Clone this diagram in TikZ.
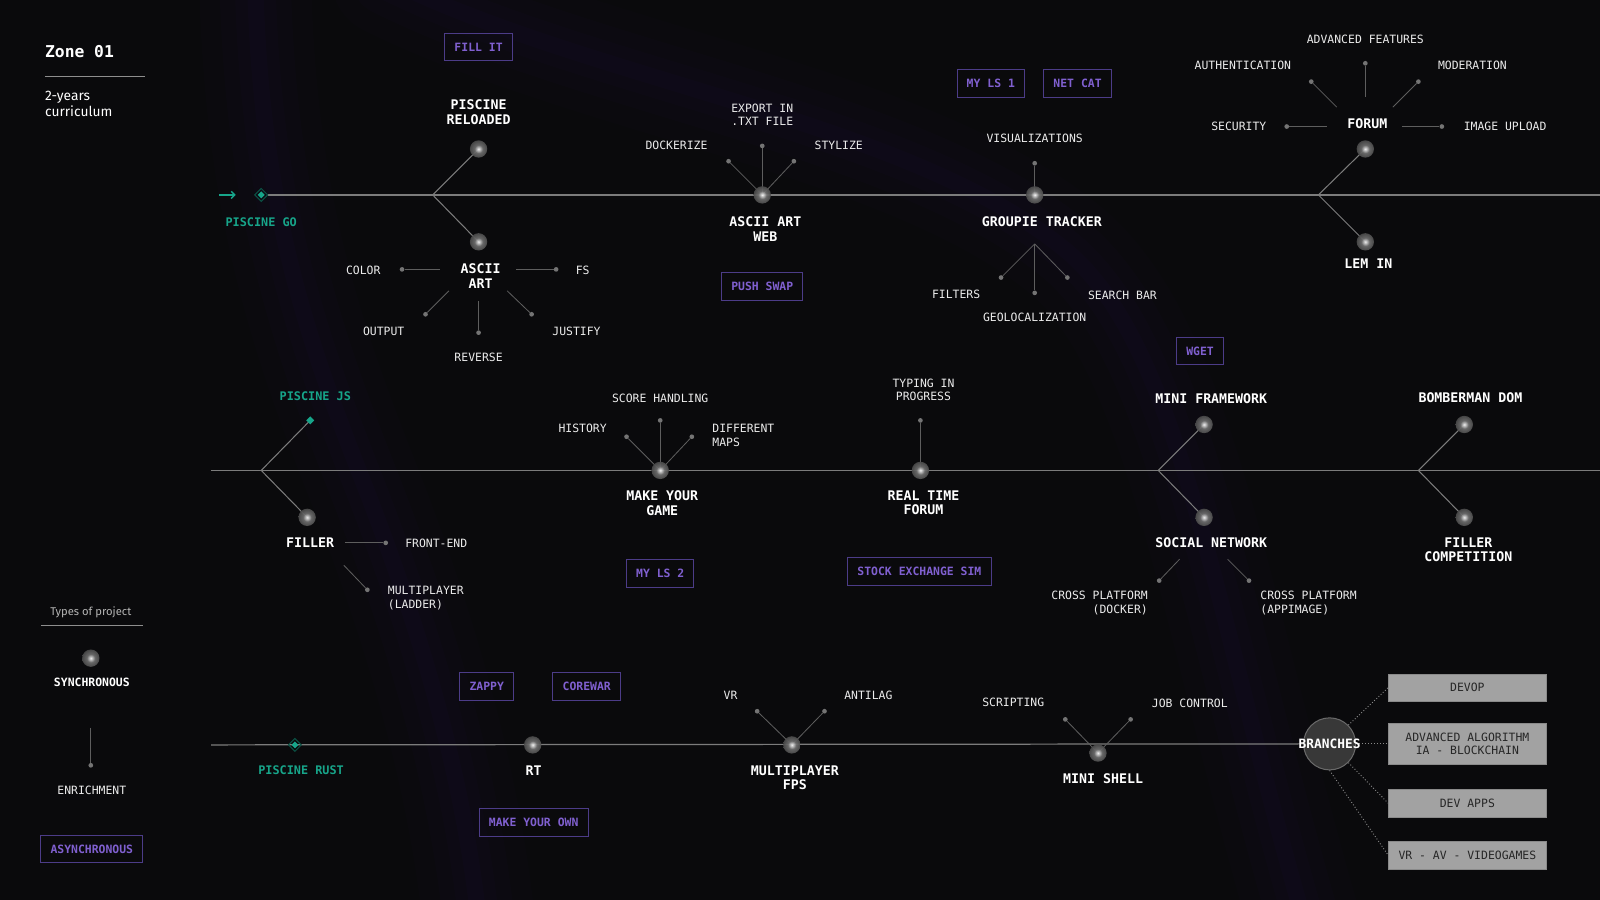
\documentclass[tikz,border=0pt]{standalone}
\usepackage{fontspec}
\setmainfont{Fira Sans}
\setmonofont{DejaVu Sans Mono}
\usepackage{tikz}
\usetikzlibrary{positioning, arrows.meta, shapes.geometric}
\definecolor{bgBlack}{HTML}{0A0A0C}
\definecolor{hazePurple}{HTML}{3B2180}
\definecolor{labelWhite}{HTML}{ECECEC}
\definecolor{legendGrey}{HTML}{B4B4B4}
\definecolor{lineGrey}{HTML}{5E5E5E}
\definecolor{axisGrey}{HTML}{7C7C7C}
\definecolor{dotGrey}{HTML}{747474}
\definecolor{poolGreen}{HTML}{17A58A}
\definecolor{asyncText}{HTML}{8060D0}
\definecolor{asyncEdge}{HTML}{4C3C88}
\definecolor{hubGrey}{HTML}{383838}
\definecolor{hubEdge}{HTML}{6A6A6A}
\definecolor{branchGrey}{HTML}{A2A2A2}
\definecolor{branchEdge}{HTML}{8A8A8A}
\definecolor{branchText}{HTML}{262626}
\definecolor{dotLine}{HTML}{8A8A8A}
\definecolor{orbB}{HTML}{D0D0D0}
\definecolor{orbC}{HTML}{6E6E6E}
\definecolor{orbD}{HTML}{444444}
\definecolor{orbE}{HTML}{262628}
\pgfdeclareradialshading{orb}{\pgfpoint{0bp}{0bp}}{color(0bp)=(white); color(4bp)=(orbB); color(12bp)=(orbC); color(28bp)=(orbD); color(50bp)=(orbE)}
\pgfdeclarelayer{back}
\pgfdeclarelayer{lines}
\pgfsetlayers{back,lines,main}
\newcommand{\projfont}{\fontsize{13}{14}\selectfont\ttfamily\bfseries}
\newcommand{\enrfont}{\fontsize{11.2}{13.5}\selectfont\ttfamily}
\newcommand{\asyncfont}{\fontsize{11.2}{13}\selectfont\ttfamily\bfseries}
\newcommand{\poolfont}{\fontsize{11.6}{13}\selectfont\ttfamily\bfseries}
\newcommand{\branchfont}{\fontsize{11.2}{13.5}\selectfont\ttfamily}

\begin{document}
\begin{tikzpicture}[x=1pt, y=-1pt,
    proj/.style={font=\projfont, text=white, align=center, inner sep=0pt},
    enrlabel/.style={font=\enrfont, text=labelWhite, align=center, inner sep=0pt},
    pool/.style={font=\poolfont, text=poolGreen, inner sep=0pt},
    async/.style={draw=asyncEdge, line width=1pt, font=\asyncfont, text=asyncText,
                  inner xsep=9.5pt, inner ysep=0pt, minimum height=27pt},
    orb/.style={circle, minimum size=17pt, inner sep=0pt, shading=orb, opacity=0.92},
    enrdot/.style={circle, fill=dotGrey, minimum size=4.6pt, inner sep=0pt},
    enrline/.style={draw=lineGrey, line width=0.8pt},
    forkline/.style={draw=axisGrey, line width=1pt},
    timeline/.style={draw=axisGrey, line width=1.2pt},
    poolmark/.style={diamond, aspect=1, draw=poolGreen!50!black, line width=1pt, minimum size=13pt, inner sep=0pt},
    poolcore/.style={diamond, aspect=1, fill=poolGreen, minimum size=7pt, inner sep=0pt},
    hub/.style={circle, fill=hubGrey, draw=hubEdge, line width=1pt, minimum size=51pt, inner sep=0pt},
    branchbox/.style={fill=branchGrey, draw=branchEdge, font=\branchfont, text=branchText, align=center,
                      minimum width=155pt, minimum height=27pt, inner sep=0pt},
    branchlink/.style={draw=dotLine, line width=0.9pt, dotted},
    haze/.style={draw=hazePurple, line cap=round}]

  \useasboundingbox (0,0) rectangle (1568,882);
  \begin{pgfonlayer}{back}
    \fill[bgBlack] (0,0) rectangle (1568,882);
    \foreach \w/\o in {110/0.025, 70/0.03, 40/0.035, 16/0.04} {
      \draw[haze, line width=\w pt, opacity=\o] (250,-20) .. controls (255,200) and (300,330) .. (355,470) .. controls (410,610) and (455,760) .. (470,910);
      \draw[haze, line width=\w pt, opacity=\o] (380,-20) .. controls (580,80) and (900,120) .. (1050,250) .. controls (1160,350) and (1190,600) .. (1280,910);
    }
  \end{pgfonlayer}

  % legend
  \node[font=\fontsize{16}{18}\selectfont\ttfamily\bfseries, text=white, anchor=west, inner sep=0pt] (zone) at (44,51) {Zone 01};
  \draw[lineGrey!70, line width=0.8pt] (44,75) -- (142,75);
  \node[font=\fontsize{13.5}{16}\selectfont, text=white, anchor=west, align=left, inner sep=0pt] (curr) at (44,102) {2-years\\curriculum};
  \node[font=\fontsize{11}{13}\selectfont, text=legendGrey, inner sep=0pt] (types) at (89,600) {Types of project};
  \draw[lineGrey!70, line width=0.8pt] (40,613) -- (140,613);
  \node[orb] (syncorb) at (89,645) {};
  \node[font=\asyncfont, text=white, inner sep=0pt] (synclbl) at (90,669) {SYNCHRONOUS};
  \coordinate (enrtop) at (89,713);
  \node[enrdot] (enrdotlg) at (89,750) {};
  \node[enrlabel] (enrlbl) at (90,775) {ENRICHMENT};
  \node[async] (asynclbl) at (90,832) {ASYNCHRONOUS};

  % row 1
  \node[poolmark] (pgo) at (256,191) {};
  \node[poolcore] (pgocore) at (pgo) {};
  \coordinate (golead) at (215,191);
  \coordinate (gotip) at (231,191);
  \node[pool] (pgolbl) at (256,218) {PISCINE GO};
  \coordinate (row1end) at (1568,191);

  \coordinate (fork1) at (424,191);
  \node[async] (fillit) at (469,46) {FILL IT};
  \node[proj] (rellbl) at (469,110) {PISCINE\\RELOADED};
  \node[orb] (rel) at (469,146) {};
  \node[orb] (asc) at (469,237) {};
  \node[proj] (asclbl) at (471,270.5) {ASCII\\ART};
  \node[enrdot] (colordot) at (394,264) {};
  \coordinate (colorfrom) at (431,264);
  \node[enrlabel] (colorlbl) at (356,265) {COLOR};
  \node[enrdot] (fsdot) at (545,264) {};
  \coordinate (fsfrom) at (506,264);
  \node[enrlabel] (fslbl) at (571,265) {FS};
  \node[enrdot] (outdot) at (417,308) {};
  \coordinate (outfrom) at (440,285);
  \node[enrlabel] (outlbl) at (376,325) {OUTPUT};
  \node[enrdot] (revdot) at (469,326) {};
  \coordinate (revfrom) at (469,295);
  \node[enrlabel] (revlbl) at (469,350) {REVERSE};
  \node[enrdot] (jusdot) at (521,308) {};
  \coordinate (jusfrom) at (497,285);
  \node[enrlabel] (juslbl) at (565,325) {JUSTIFY};

  \node[orb] (web) at (747,191) {};
  \node[proj] (weblbl) at (750,224.5) {ASCII ART\\WEB};
  \node[enrdot] (dockdot) at (714,158) {};
  \node[enrdot] (expdot) at (747,143) {};
  \node[enrdot] (stydot) at (778,158) {};
  \node[enrlabel] (docklbl) at (663,142) {DOCKERIZE};
  \node[enrlabel] (explbl) at (747,112.5) {EXPORT IN\\.TXT FILE};
  \node[enrlabel] (stylbl) at (822,142) {STYLIZE};
  \node[async] (pushswap) at (747,281) {PUSH SWAP};
  \node[async] (myls1) at (971,82) {MY LS 1};
  \node[async] (netcat) at (1056,82) {NET CAT};

  \node[orb] (gro) at (1014,191) {};
  \node[enrdot] (visdot) at (1014,160) {};
  \node[enrlabel] (vislbl) at (1014,136) {VISUALIZATIONS};
  \node[proj] (grolbl) at (1021,217) {GROUPIE TRACKER};
  \coordinate (grofork) at (1014,239);
  \node[enrdot] (filtdot) at (981,272) {};
  \node[enrdot] (geodot) at (1014,287) {};
  \node[enrdot] (seadot) at (1046,272) {};
  \node[enrlabel] (filtlbl) at (937,288) {FILTERS};
  \node[enrlabel] (geolbl) at (1014,311) {GEOLOCALIZATION};
  \node[enrlabel] (sealbl) at (1100,289) {SEARCH BAR};

  \coordinate (fork2) at (1292,191);
  \node[orb] (forum) at (1338,146) {};
  \node[proj] (forumlbl) at (1340,121) {FORUM};
  \node[orb] (lemin) at (1338,237) {};
  \node[proj] (leminlbl) at (1341,258) {LEM IN};
  \node[enrdot] (authdot) at (1285,80) {};
  \node[enrdot] (advdot) at (1338,62) {};
  \node[enrdot] (moddot) at (1390,80) {};
  \node[enrdot] (secdot) at (1261,124) {};
  \node[enrdot] (imgdot) at (1413,124) {};
  \coordinate (authfrom) at (1310,105);
  \coordinate (advfrom) at (1338,95);
  \coordinate (modfrom) at (1365,105);
  \coordinate (secfrom) at (1300,124);
  \coordinate (imgfrom) at (1374,124);
  \node[enrlabel] (advlbl) at (1338,39) {ADVANCED FEATURES};
  \node[enrlabel] (authlbl) at (1218,64) {AUTHENTICATION};
  \node[enrlabel] (modlbl) at (1443,64) {MODERATION};
  \node[enrlabel] (seclbl) at (1214,124) {SECURITY};
  \node[enrlabel] (imglbl) at (1475,124) {IMAGE UPLOAD};
  \node[async] (wget) at (1176,344) {WGET};

  % row 2
  \coordinate (row2start) at (207,461);
  \coordinate (row2end) at (1568,461);
  \coordinate (fork3) at (256,461);
  \node[poolcore, minimum size=8pt] (pjs) at (304,412) {};
  \node[pool] (pjslbl) at (309,388) {PISCINE JS};
  \node[orb] (filler) at (301,507) {};
  \node[proj] (fillerlbl) at (304,532) {FILLER};
  \coordinate (fefrom) at (338,532);
  \node[enrdot] (fedot) at (378,532) {};
  \node[enrlabel, anchor=west] (felbl) at (397,532) {FRONT-END};
  \coordinate (mlfrom) at (337,554);
  \node[enrdot] (mldot) at (360,578) {};
  \node[enrlabel, anchor=west, align=left] (mllbl) at (380,586) {MULTIPLAYER\\(LADDER)};

  \node[orb] (game) at (647,461) {};
  \node[enrdot] (histdot) at (614,428) {};
  \node[enrdot] (scoredot) at (647,412) {};
  \node[enrdot] (mapsdot) at (678,428) {};
  \node[enrlabel] (histlbl) at (571,420) {HISTORY};
  \node[enrlabel] (scorelbl) at (647,390) {SCORE HANDLING};
  \node[enrlabel, anchor=west, align=left] (mapslbl) at (698,427) {DIFFERENT\\MAPS};
  \node[proj] (gamelbl) at (649,493) {MAKE YOUR\\GAME};
  \node[async] (myls2) at (647,562) {MY LS 2};

  \node[orb] (rtf) at (902,461) {};
  \node[enrdot] (typdot) at (902,412) {};
  \node[enrlabel] (typlbl) at (905,382) {TYPING IN\\PROGRESS};
  \node[proj] (rtflbl) at (905,493) {REAL TIME\\FORUM};
  \node[async] (stock) at (901,560) {STOCK EXCHANGE SIM};

  \coordinate (fork4) at (1135,461);
  \node[orb] (minifw) at (1180,416) {};
  \node[proj] (minifwlbl) at (1187,391) {MINI FRAMEWORK};
  \node[orb] (social) at (1180,507) {};
  \node[proj] (sociallbl) at (1187,532) {SOCIAL NETWORK};
  \coordinate (dockfrom) at (1156,548);
  \node[enrdot] (dockerdot) at (1136,569) {};
  \coordinate (appfrom) at (1203,548);
  \node[enrdot] (appdot) at (1224,569) {};
  \node[enrlabel, anchor=east, align=right] (dockerlbl) at (1125,591) {CROSS PLATFORM\\(DOCKER)};
  \node[enrlabel, anchor=west, align=left] (applbl) at (1235,591) {CROSS PLATFORM\\(APPIMAGE)};

  \coordinate (fork5) at (1390,461);
  \node[orb] (bomber) at (1435,416) {};
  \node[proj] (bomberlbl) at (1441,390) {BOMBERMAN DOM};
  \node[orb] (fillcomp) at (1435,507) {};
  \node[proj] (fillcomplbl) at (1439,539) {FILLER\\COMPETITION};

  % row 3
  \coordinate (row3start) at (207,730);
  \node[poolmark] (prust) at (289,730) {};
  \node[poolcore] (prustcore) at (prust) {};
  \node[pool] (prustlbl) at (295,755) {PISCINE RUST};
  \node[async] (zappy) at (477,673) {ZAPPY};
  \node[async] (corewar) at (575,673) {COREWAR};
  \node[orb] (rt) at (522,730) {};
  \node[proj] (rtlbl) at (523,755) {RT};
  \node[async] (ownlbl) at (523,806) {MAKE YOUR OWN};

  \node[orb] (fps) at (776,730) {};
  \node[enrdot] (vrdot) at (742,697) {};
  \node[enrdot] (lagdot) at (808,697) {};
  \node[enrlabel] (vrlbl) at (716,681) {VR};
  \node[enrlabel] (laglbl) at (851,681) {ANTILAG};
  \node[proj] (fpslbl) at (779,762) {MULTIPLAYER\\FPS};

  \node[orb] (shell) at (1076,738) {};
  \node[enrdot] (scrdot) at (1044,705) {};
  \node[enrdot] (jobdot) at (1108,705) {};
  \node[enrlabel] (scrlbl) at (993,688) {SCRIPTING};
  \node[enrlabel] (joblbl) at (1166,689) {JOB CONTROL};
  \node[proj] (shelllbl) at (1081,763) {MINI SHELL};

  \node[hub] (branches) at (1303,729) {};
  \node[proj, font=\fontsize{12.6}{14}\selectfont\ttfamily\bfseries] (brlbl) at (branches) {BRANCHES};
  \node[branchbox] (devop) at (1438,674) {DEVOP};
  \node[branchbox, minimum height=40pt] (algo) at (1438,729) {ADVANCED ALGORITHM\\IA - BLOCKCHAIN};
  \node[branchbox] (apps) at (1438,787) {DEV APPS};
  \node[branchbox] (games) at (1438,838) {VR - AV - VIDEOGAMES};

  \begin{pgfonlayer}{lines}
    \draw[-{Straight Barb[length=3.5pt, width=7pt]}, poolGreen, line width=1.3pt] (golead) -- (gotip);
    \draw[timeline] (pgo.east) -- (row1end);
    \draw[timeline] (row2start) -- (row2end);
    \draw[timeline] (row3start) -- (branches.west);
    \draw[forkline] (fork1) -- (rel.center); \draw[forkline] (fork1) -- (asc.center);
    \draw[forkline] (fork2) -- (forum.center); \draw[forkline] (fork2) -- (lemin.center);
    \draw[forkline] (fork3) -- (pjs.center); \draw[forkline] (fork3) -- (filler.center);
    \draw[forkline] (fork4) -- (minifw.center); \draw[forkline] (fork4) -- (social.center);
    \draw[forkline] (fork5) -- (bomber.center); \draw[forkline] (fork5) -- (fillcomp.center);
    \draw[enrline] (enrtop) -- (enrdotlg);
    \draw[enrline] (colorfrom) -- (colordot); \draw[enrline] (fsfrom) -- (fsdot);
    \draw[enrline] (outfrom) -- (outdot); \draw[enrline] (revfrom) -- (revdot); \draw[enrline] (jusfrom) -- (jusdot);
    \draw[enrline] (web.center) -- (dockdot); \draw[enrline] (web.center) -- (expdot); \draw[enrline] (web.center) -- (stydot);
    \draw[enrline] (gro.center) -- (visdot);
    \draw[enrline] (grofork) -- (filtdot); \draw[enrline] (grofork) -- (geodot); \draw[enrline] (grofork) -- (seadot);
    \draw[enrline] (authfrom) -- (authdot); \draw[enrline] (advfrom) -- (advdot); \draw[enrline] (modfrom) -- (moddot);
    \draw[enrline] (secfrom) -- (secdot); \draw[enrline] (imgfrom) -- (imgdot);
    \draw[enrline] (fefrom) -- (fedot); \draw[enrline] (mlfrom) -- (mldot);
    \draw[enrline] (game.center) -- (histdot); \draw[enrline] (game.center) -- (scoredot); \draw[enrline] (game.center) -- (mapsdot);
    \draw[enrline] (rtf.center) -- (typdot);
    \draw[enrline] (dockfrom) -- (dockerdot); \draw[enrline] (appfrom) -- (appdot);
    \draw[enrline] (fps.center) -- (vrdot); \draw[enrline] (fps.center) -- (lagdot);
    \draw[enrline] (shell.center) -- (scrdot); \draw[enrline] (shell.center) -- (jobdot);
    \draw[branchlink] (branches.north east) -- (devop.west);
    \draw[branchlink] (branches.east) -- (algo.west);
    \draw[branchlink] (branches.south east) -- (apps.west);
    \draw[branchlink] (branches.south) -- (games.west);
  \end{pgfonlayer}
\end{tikzpicture}
\end{document}
